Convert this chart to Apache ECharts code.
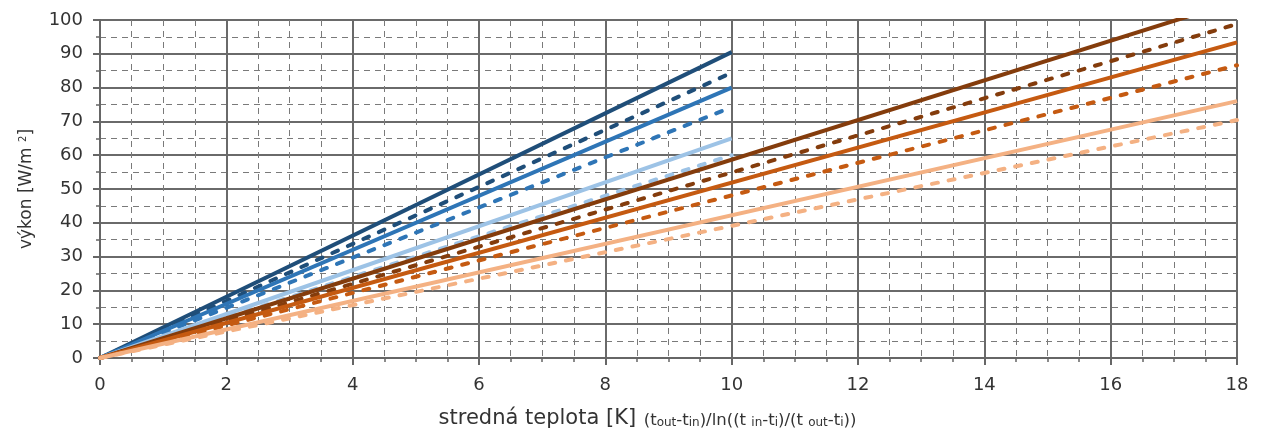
<!DOCTYPE html>
<html>
<head>
<meta charset="utf-8">
<script src="https://cdn.jsdelivr.net/npm/echarts@6/dist/echarts.min.js"></script>
<style>
  html, body { margin: 0; padding: 0; background: #fff; }
  #chart { width: 1267px; height: 437px; }
</style>
</head>
<body>
<div id="chart"></div>
<script>
// x ticks / y ticks
const xTicks = [0, 2, 4, 6, 8, 10, 12, 14, 16, 18];
const yTicks = [0, 10, 20, 30, 40, 50, 60, 70, 80, 90, 100];

// lines: [x, y] start and end points
const blueDark = [[0, 0], [10, 90.5]];
const blueDarkDash = [[0, 0], [10, 84.4]];
const blueMid = [[0, 0], [10, 80]];
const blueMidDash = [[0, 0], [10, 74.2]];
const blueLight = [[0, 0], [10, 65]];
const blueLightDash = [[0, 0], [10, 60]];
const brownDark = [[0, 0], [18, 105.6]];
const brownDarkDash = [[0, 0], [18, 98.8]];
const orange = [[0, 0], [18, 93.4]];
const orangeDash = [[0, 0], [18, 86.6]];
const orangeLight = [[0, 0], [18, 76]];
const orangeLightDash = [[0, 0], [18, 70.4]];

const FONT = '"DejaVu Sans", "Open Sans", sans-serif';
const dashPattern = [6, 11];

function line(data, color, dashed) {
  return {
    type: 'line',
    data: data,
    showSymbol: false,
    symbol: 'none',
    clip: true,
    silent: true,
    lineStyle: {
      color: color,
      width: 4,
      type: dashed ? dashPattern : 'solid',
      cap: dashed ? 'round' : 'butt'
    }
  };
}

const chart = echarts.init(document.getElementById('chart'));
chart.setOption({
  animation: false,
  backgroundColor: '#ffffff',
  grid: { left: 100, right: 30, top: 20, bottom: 79 },
  xAxis: {
    type: 'value',
    min: xTicks[0],
    max: xTicks[xTicks.length - 1],
    interval: 2,
    name: '{a|stredná teplota [K]}  {b|(t}{s|out}{b|-t}{s|in}{b|)/ln((t }{s|in}{b|-t}{s|i}{b|)/(t }{s|out}{b|-t}{s|i}{b|))}',
    nameLocation: 'middle',
    nameGap: 46,
    nameTextStyle: {
      color: '#333',
      fontFamily: FONT,
      padding: [0, 42, 0, 0],
      rich: {
        a: { fontSize: 21, fontFamily: FONT, color: '#333', lineHeight: 25, verticalAlign: 'bottom' },
        b: { fontSize: 16.5, fontFamily: FONT, color: '#333', lineHeight: 22, verticalAlign: 'bottom' },
        s: { fontSize: 12, fontFamily: FONT, color: '#333', lineHeight: 12, verticalAlign: 'bottom' }
      }
    },
    axisLine: { show: true, lineStyle: { color: '#666', width: 2 } },
    axisTick: { show: true, length: 7, lineStyle: { color: '#666', width: 2 } },
    minorTick: { show: true, splitNumber: 4, length: 4, lineStyle: { color: '#666', width: 1.5 } },
    axisLabel: { color: '#333', fontSize: 18, fontFamily: FONT, margin: 18 },
    splitLine: { show: true, lineStyle: { color: '#6a6a6a', width: 2 } },
    minorSplitLine: { show: true, lineStyle: { color: '#7a7a7a', width: 1, type: [6, 5] } }
  },
  yAxis: {
    type: 'value',
    min: yTicks[0],
    max: yTicks[yTicks.length - 1],
    interval: 10,
    name: '{a|výkon [W/m }{p|2}{a|]}',
    nameLocation: 'middle',
    nameGap: 62,
    nameTextStyle: {
      color: '#333',
      fontFamily: FONT,
      rich: {
        a: { fontSize: 17, fontFamily: FONT, color: '#333', lineHeight: 20, verticalAlign: 'top' },
        p: { fontSize: 10, fontFamily: FONT, color: '#333', lineHeight: 11, verticalAlign: 'top' }
      }
    },
    axisLine: { show: true, lineStyle: { color: '#666', width: 2 } },
    axisTick: { show: true, length: 7, lineStyle: { color: '#666', width: 2 } },
    minorTick: { show: true, splitNumber: 2, length: 4, lineStyle: { color: '#666', width: 1.5 } },
    axisLabel: { color: '#333', fontSize: 18, fontFamily: FONT, margin: 17 },
    splitLine: { show: true, lineStyle: { color: '#6a6a6a', width: 2 } },
    minorSplitLine: { show: true, lineStyle: { color: '#7a7a7a', width: 1, type: [6, 5] } }
  },
  series: [
    line(blueDark, '#1f4e79', false),
    line(blueDarkDash, '#1f4e79', true),
    line(blueMid, '#2e75b6', false),
    line(blueMidDash, '#2e75b6', true),
    line(blueLight, '#9dc3e6', false),
    line(blueLightDash, '#9dc3e6', true),
    line(brownDark, '#843c0c', false),
    line(brownDarkDash, '#843c0c', true),
    line(orange, '#c55a11', false),
    line(orangeDash, '#c55a11', true),
    line(orangeLight, '#f4b183', false),
    line(orangeLightDash, '#f4b183', true)
  ]
});
</script>
</body>
</html>
